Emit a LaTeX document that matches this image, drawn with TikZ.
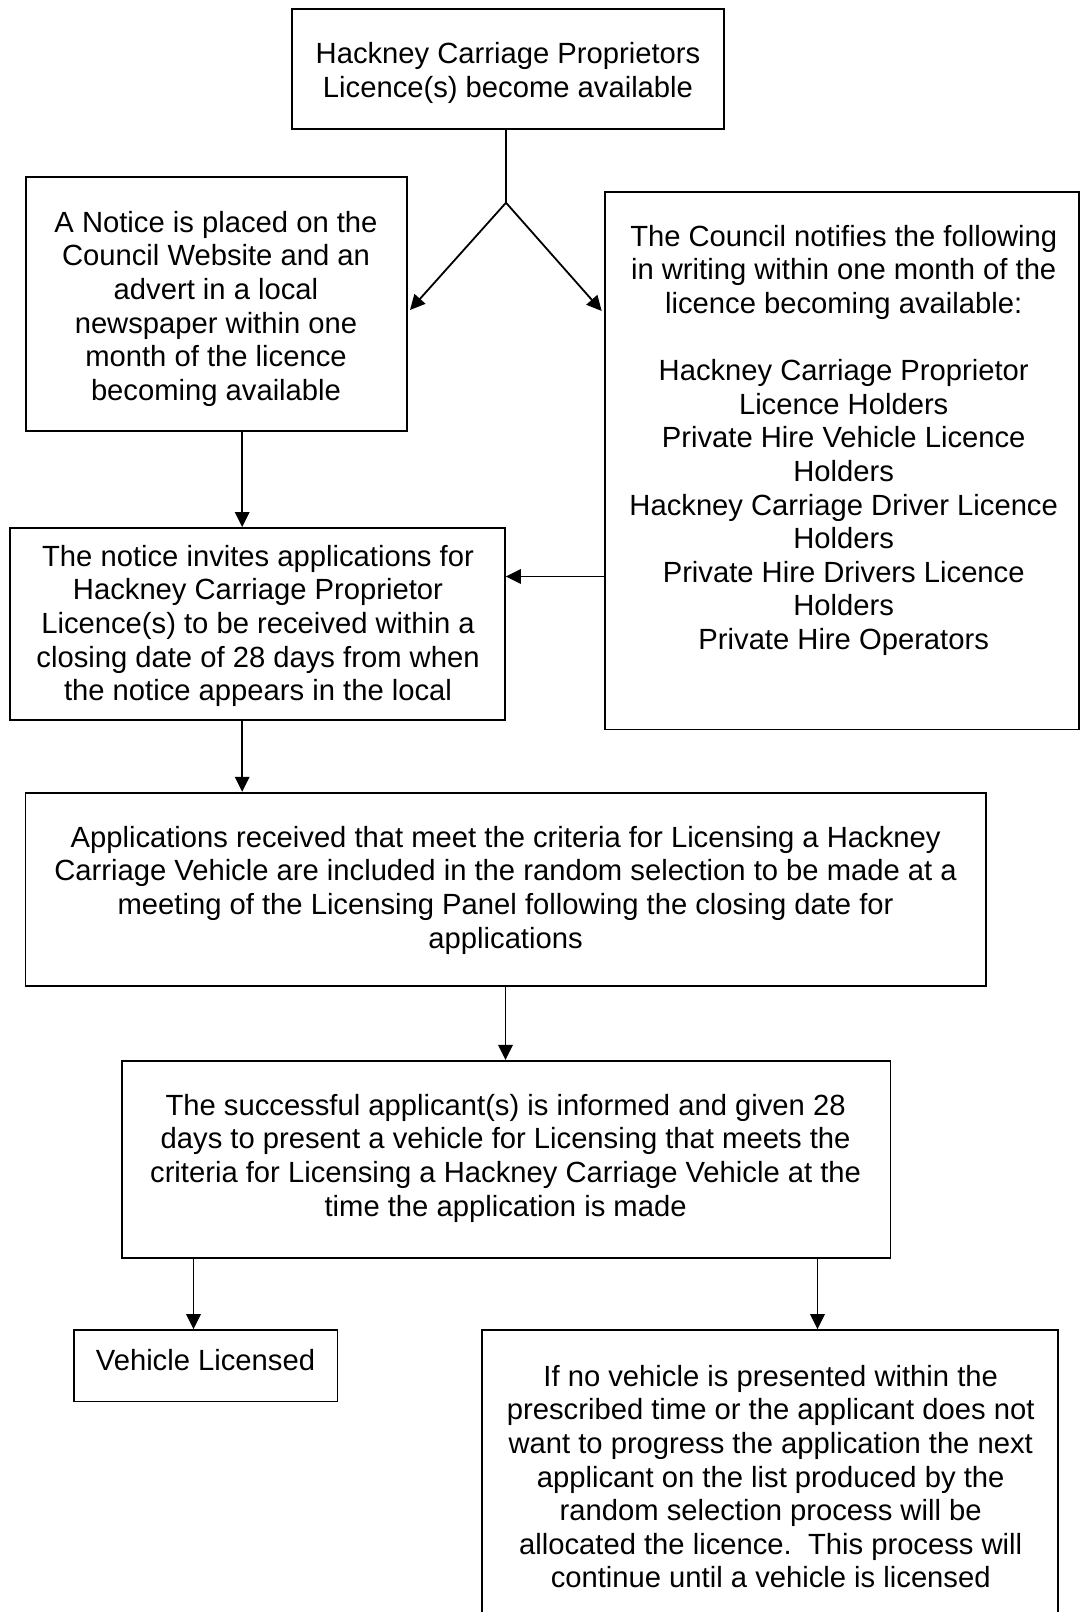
\documentclass[tikz,border=0pt]{standalone}
\usepackage{fontspec}
\setmainfont{Liberation Sans}
\usetikzlibrary{arrows.meta}
\begin{document}
\begin{tikzpicture}[x=1pt,y=-1pt,
  box/.style={draw=black, line width=1.8pt, inner sep=0pt, rectangle},
  txt/.style={align=center, inner sep=0pt, font=\fontsize{29.2}{33.6}\selectfont},
  arr/.style={draw=black, line width=1.8pt, -{Triangle[length=15pt,width=14.5pt]}},
  ln/.style={draw=black, line width=1.8pt}]
\useasboundingbox (0,0) rectangle (1080,1612);
\clip (0,0) rectangle (1080,1612);
\fill[white] (0,0) rectangle (1080,1612);
% boxes
\node[box, minimum width=432.6pt, minimum height=120pt] (b1) at (508,69.3) {};
\node[box, minimum width=380.9pt, minimum height=254pt] (b2) at (216.25,304) {};
\node[box, minimum width=474.3pt, minimum height=537.7pt] (b3) at (841.85,460.65) {};
\node[box, minimum width=494.7pt, minimum height=192pt] (b4) at (257.65,624) {};
\node[box, minimum width=960.7pt, minimum height=193pt] (b5) at (505.85,889.2) {};
\node[box, minimum width=768.6pt, minimum height=197.1pt] (b6) at (506.2,1159.35) {};
\node[box, minimum width=263.8pt, minimum height=71.5pt] (b7) at (205.6,1365.75) {};
\node[box, minimum width=576pt, minimum height=330pt] (b8) at (770,1495) {};
% texts
\node[txt] (t1) at (508,73) {Hackney Carriage Proprietors\\Licence(s) become available};
\node[txt] (t2) at (216,308.8) {A Notice is placed on the\\Council Website and an\\advert in a local\\newspaper within one\\month of the licence\\becoming available};
\node[txt] (t3) at (843.7,440.3) {The Council notifies the following\\in writing within one month of the\\licence becoming available:\\\mbox{}\\Hackney Carriage Proprietor\\Licence Holders\\Private Hire Vehicle Licence\\Holders\\Hackney Carriage Driver Licence\\Holders\\Private Hire Drivers Licence\\Holders\\Private Hire Operators};
\node[txt] (t4) at (258,625.9) {The notice invites applications for\\Hackney Carriage Proprietor\\Licence(s) to be received within a\\closing date of 28 days from when\\the notice appears in the local};
\node[txt] (t5) at (505.6,890.2) {Applications received that meet the criteria for Licensing a Hackney\\Carriage Vehicle are included in the random selection to be made at a\\meeting of the Licensing Panel following the closing date for\\applications};
\node[txt] (t6) at (505.6,1158.1) {The successful applicant(s) is informed and given 28\\days to present a vehicle for Licensing that meets the\\criteria for Licensing a Hackney Carriage Vehicle at the\\time the application is made};
\node[txt] (t7) at (205.5,1360.1) {Vehicle Licensed};
\node[txt] (t8) at (770.7,1476.7) {If no vehicle is presented within the\\prescribed time or the applicant does not\\want to progress the application the next\\applicant on the list produced by the\\random selection process will be\\allocated the licence.\ \ This process will\\continue until a vehicle is licensed};
% helper coordinates
\coordinate (j) at (506,202.7);
\coordinate (tipL) at (410,310);
\coordinate (tipR) at (601.7,311);
\coordinate (xa) at (242.2,0);
\coordinate (xb) at (505.5,0);
\coordinate (xc) at (193.5,0);
\coordinate (xd) at (817.5,0);
\coordinate (ya) at (0,576.5);
% connectors
\draw[ln] (b1.south -| j) -- (j);
\draw[arr] (j) -- (tipL);
\draw[arr] (j) -- (tipR);
\draw[arr] (b2.south -| xa) -- (b4.north -| xa);
\draw[arr] (b3.west |- ya) -- (b4.east |- ya);
\draw[arr] (b4.south -| xa) -- (b5.north -| xa);
\draw[arr] (b5.south -| xb) -- (b6.north -| xb);
\draw[arr] (b6.south -| xc) -- (b7.north -| xc);
\draw[arr] (b6.south -| xd) -- (b8.north -| xd);
\end{tikzpicture}
\end{document}
